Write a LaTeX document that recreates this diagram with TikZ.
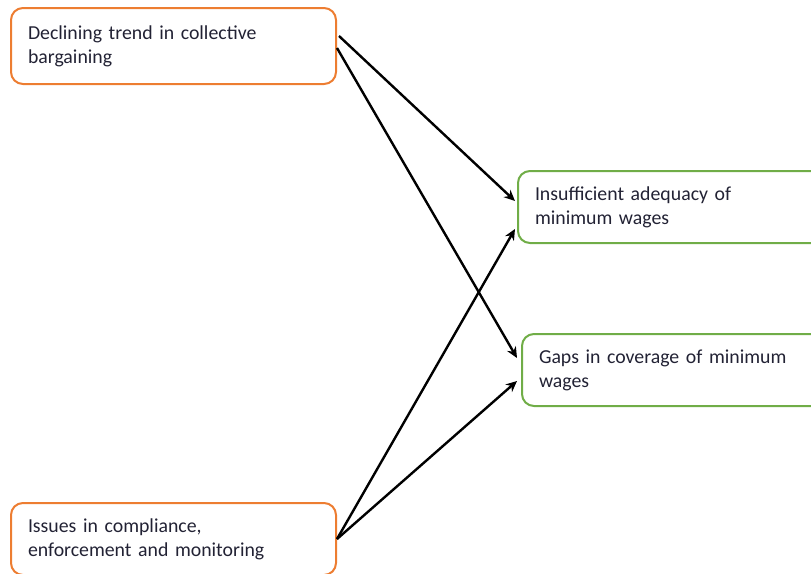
\documentclass[tikz,border=0pt]{standalone}
\usepackage{fontspec}
\setmainfont{Carlito}
\usepackage{tikz}
\usetikzlibrary{arrows,arrows.meta,positioning,calc}
\definecolor{boxorange}{RGB}{237,125,49}
\definecolor{boxgreen}{RGB}{112,173,71}
\definecolor{txt}{RGB}{34,34,52}

\begin{document}
\begin{tikzpicture}[x=1pt, y=-1pt, line width=2.4pt, >={Stealth[length=11pt, width=10pt]}]
	\tikzstyle{cause} = [rectangle, rounded corners=12pt, minimum width=325pt, minimum height=76pt,
	text width=291pt, inner xsep=17pt, align=left, draw=boxorange, line width=2pt, text=txt,
	font=\fontsize{19.8}{24}\selectfont, anchor=north west]
	\tikzstyle{effect} = [rectangle, rounded corners=12pt, minimum width=320pt, minimum height=72pt,
	text width=286pt, inner xsep=16pt, align=left, draw=boxgreen, line width=2pt, text=txt,
	font=\fontsize{19.8}{24}\selectfont, anchor=north west]
	\useasboundingbox (0,0) rectangle (811,573);
	\clip (0,0) rectangle (811,573);
	% causes
	\node (decline) at (10,7) [cause] {Declining trend in collective\\bargaining};
	\node (compliance) at (10,502) [cause, minimum height=72pt] {Issues in compliance,\\enforcement and monitoring};
	% effects
	\node (adequacy) at (517,170) [effect] {Insufficient adequacy of\\minimum wages};
	\node (coverage) at (521,333) [effect] {Gaps in coverage of minimum\\wages};
	% arrows
	\draw[->] ($(decline.east)+(2,-10)$) -- ($(adequacy.west)+(-2,-6)$);
	\draw[->] ($(decline.east)+(0,2)$) -- ($(coverage.west)+(-4,-12)$);
	\draw[->] (compliance.east) -- ($(adequacy.west)+(-2,22)$);
	\draw[->] (compliance.east) -- ($(coverage.west)+(-4,11)$);
\end{tikzpicture}
\end{document}
